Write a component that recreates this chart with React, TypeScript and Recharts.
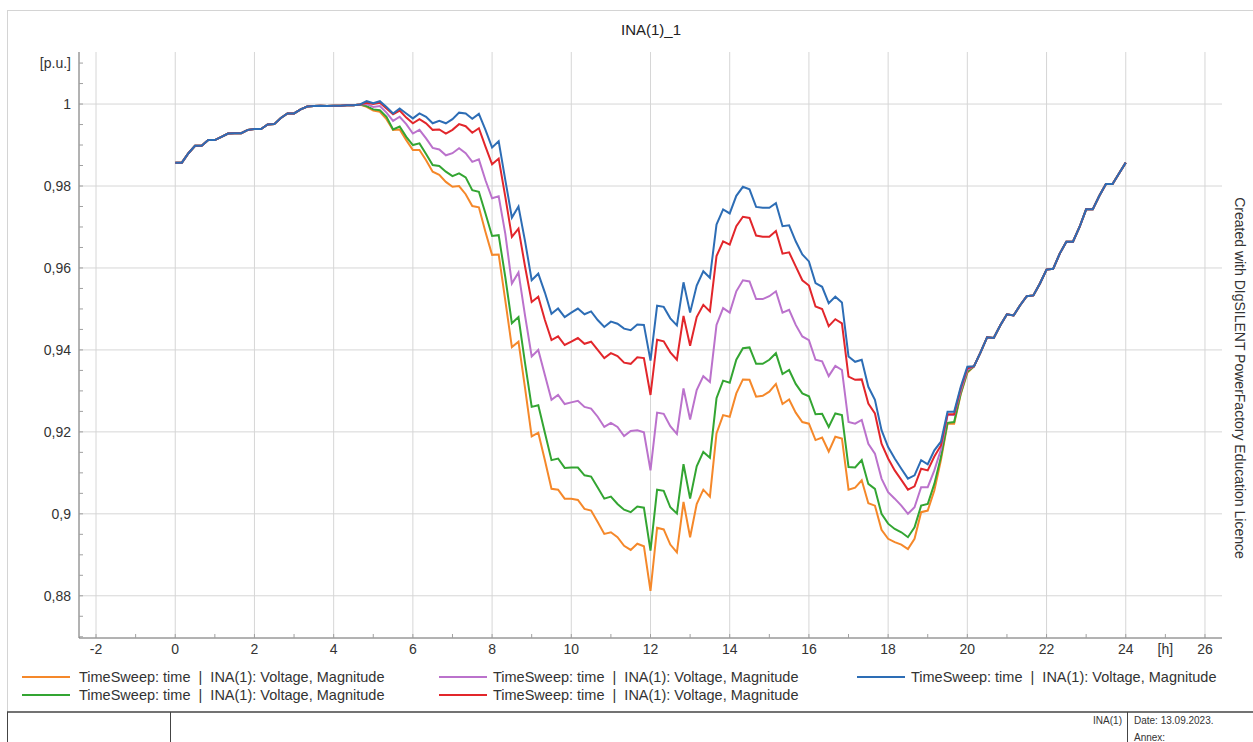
import React from 'react';
import { LineChart, Line, XAxis, YAxis, CartesianGrid } from 'recharts';

// 10 minute sweep, 0 h .. 24 h
const STEP_HOURS = 10 / 60;

// all five curves coincide here (0 h .. 4.67 h)
const SHARED_HEAD = [
  0.9857, 0.9857, 0.988, 0.9898, 0.9898, 0.9912, 0.9912, 0.992, 0.9928, 0.9929,
  0.9929, 0.9937, 0.9939, 0.9939, 0.995, 0.9951, 0.9966, 0.9977, 0.9977, 0.9987,
  0.9994, 0.9995, 0.9996, 0.9995, 0.9996, 0.9996, 0.9997, 0.9997, 0.9999,
];

// and here again (20.17 h .. 24 h)
const SHARED_TAIL = [
  0.936, 0.9394, 0.9431, 0.9429, 0.946, 0.9487, 0.9484, 0.9509, 0.9531, 0.9533,
  0.9562, 0.9596, 0.9598, 0.9635, 0.9664, 0.9664, 0.97, 0.9743, 0.9743, 0.9776,
  0.9805, 0.9805, 0.9831, 0.9857,
];

// 4.83 h .. 20 h
const ORANGE_MID = [
  0.9993, 0.9984, 0.9981, 0.9963, 0.9937, 0.9938, 0.9912, 0.9888, 0.9888, 0.9863,
  0.9835, 0.9827, 0.981, 0.9798, 0.98, 0.978, 0.9751, 0.9748, 0.9688, 0.9632,
  0.9633, 0.9521, 0.9407, 0.942, 0.9306, 0.9189, 0.9198, 0.9131, 0.9061, 0.9059,
  0.9037, 0.9037, 0.9034, 0.9012, 0.9008, 0.898, 0.8951, 0.8955, 0.8943, 0.8922,
  0.8912, 0.8927, 0.8921, 0.8812, 0.8966, 0.8962, 0.8925, 0.8906, 0.9029, 0.8943,
  0.9024, 0.9059, 0.9042, 0.9196, 0.9241, 0.9237, 0.9294, 0.9328, 0.9327, 0.9286,
  0.9288, 0.9298, 0.9317, 0.9268, 0.9279, 0.9247, 0.9224, 0.922, 0.918, 0.9186,
  0.9152, 0.9188, 0.9184, 0.9059, 0.9064, 0.9082, 0.9026, 0.902, 0.8961, 0.8939,
  0.8931, 0.8925, 0.8914, 0.8939, 0.9004, 0.9008, 0.9057, 0.9131, 0.922, 0.922,
  0.9292, 0.9344,
];

const GREEN_MID = [
  0.9995, 0.9987, 0.9985, 0.9969, 0.9938, 0.9945, 0.992, 0.99, 0.9904, 0.9878,
  0.9851, 0.9849, 0.9835, 0.9824, 0.9831, 0.9821, 0.979, 0.9786, 0.9733, 0.9678,
  0.968, 0.9578, 0.9465, 0.948, 0.9367, 0.9261, 0.9265, 0.9198, 0.9131, 0.9135,
  0.9112, 0.9113, 0.9113, 0.9094, 0.9091, 0.9064, 0.9037, 0.9042, 0.9024, 0.901,
  0.9004, 0.9018, 0.9015, 0.891, 0.9059, 0.9056, 0.9016, 0.9001, 0.9121, 0.9037,
  0.9116, 0.9151, 0.9137, 0.9282, 0.9325, 0.932, 0.9376, 0.9404, 0.9406, 0.9366,
  0.9366, 0.9376, 0.9392, 0.9341, 0.9351, 0.9317, 0.9294, 0.9287, 0.9243, 0.9244,
  0.9212, 0.9245, 0.9241, 0.9114, 0.9113, 0.9131, 0.9073, 0.9061, 0.9, 0.8976,
  0.8963, 0.8955, 0.8943, 0.8967, 0.902, 0.9024, 0.9073, 0.9139, 0.9222, 0.9224,
  0.9294, 0.9347,
];

const PURPLE_MID = [
  1.0, 0.9993, 0.9995, 0.9979, 0.9959, 0.9969, 0.9951, 0.9928, 0.9937, 0.9916,
  0.9893, 0.9889, 0.9875, 0.988, 0.9892, 0.988, 0.9859, 0.9865, 0.9814, 0.977,
  0.9775, 0.9684, 0.9562, 0.9589, 0.9483, 0.9384, 0.94, 0.9339, 0.9278, 0.929,
  0.9268, 0.9272, 0.9276, 0.9261, 0.9257, 0.9237, 0.9212, 0.9222, 0.9212, 0.919,
  0.9202, 0.9204, 0.9199, 0.9106, 0.9247, 0.9244, 0.9214, 0.9195, 0.9306, 0.923,
  0.9302, 0.9336, 0.9322, 0.9461, 0.9502, 0.9491, 0.9543, 0.957, 0.9567, 0.9524,
  0.9524, 0.9531, 0.9543, 0.9491, 0.9498, 0.9461, 0.9433, 0.9424, 0.9376, 0.9372,
  0.9336, 0.9361, 0.9351, 0.9224, 0.922, 0.9229, 0.9171, 0.9147, 0.9086, 0.9053,
  0.9037, 0.902, 0.9, 0.9016, 0.9065, 0.9065, 0.9106, 0.9157, 0.9241, 0.9241,
  0.93, 0.9351,
];

const RED_MID = [
  1.0003, 1.0, 1.0003, 0.9989, 0.9975, 0.9984, 0.9967, 0.9953, 0.9963, 0.9953,
  0.9937, 0.9938, 0.9928, 0.9937, 0.9951, 0.9946, 0.993, 0.9941, 0.9896, 0.9853,
  0.9867, 0.9774, 0.9676, 0.9696, 0.9603, 0.9517, 0.953, 0.9473, 0.9424, 0.9433,
  0.9412, 0.942, 0.9429, 0.9415, 0.942, 0.94, 0.938, 0.9392, 0.9385, 0.9369,
  0.9366, 0.9382, 0.938, 0.929, 0.9425, 0.9421, 0.9394, 0.9376, 0.9483, 0.941,
  0.948, 0.951, 0.9494, 0.9629, 0.9665, 0.9657, 0.9702, 0.9725, 0.9722, 0.9679,
  0.9676, 0.9676, 0.969, 0.9635, 0.9638, 0.9604, 0.957, 0.9557, 0.9506, 0.95,
  0.9458, 0.9475, 0.9465, 0.9335, 0.9327, 0.9328, 0.9269, 0.9245, 0.9171, 0.9135,
  0.9106, 0.9083, 0.9059, 0.9067, 0.911, 0.9106, 0.914, 0.9167, 0.9243, 0.9243,
  0.9306, 0.9355,
];

const BLUE_MID = [
  1.0007, 1.0002, 1.0007, 0.9993, 0.9977, 0.9989, 0.9977, 0.9965, 0.9977, 0.9969,
  0.9953, 0.9959, 0.9953, 0.9963, 0.9979, 0.9977, 0.9964, 0.9976, 0.9937, 0.9894,
  0.9909, 0.9815, 0.9723, 0.975, 0.9665, 0.957, 0.9586, 0.954, 0.9488, 0.9501,
  0.948, 0.9491, 0.9501, 0.9487, 0.9494, 0.9473, 0.9456, 0.9469, 0.9464, 0.9452,
  0.9448, 0.9462, 0.9461, 0.9374, 0.9508, 0.9505, 0.9477, 0.946, 0.9565, 0.9491,
  0.9557, 0.9592, 0.9576, 0.9706, 0.9743, 0.9733, 0.9776, 0.9798, 0.9792, 0.9749,
  0.9747, 0.9747, 0.9758, 0.9702, 0.9704, 0.9665, 0.9633, 0.9616, 0.9563, 0.9554,
  0.9514, 0.953, 0.9516, 0.9384, 0.9371, 0.9376, 0.931, 0.9278, 0.9204, 0.9163,
  0.9135, 0.911, 0.9086, 0.9094, 0.9131, 0.9121, 0.9155, 0.9176, 0.9249, 0.9249,
  0.931, 0.9359,
];

const X_TICKS = [-2, -1, 0, 1, 2, 3, 4, 5, 6, 7, 8, 9, 10, 11, 12, 13, 14, 15, 16, 17, 18, 19, 20, 21, 22, 23, 24, 25, 26];
const X_GRID = [-2, 0, 2, 4, 6, 8, 10, 12, 14, 16, 18, 20, 22, 24, 26];
const Y_TICKS = [
  0.87, 0.875, 0.88, 0.885, 0.89, 0.895, 0.9, 0.905, 0.91, 0.915, 0.92, 0.925, 0.93, 0.935,
  0.94, 0.945, 0.95, 0.955, 0.96, 0.965, 0.97, 0.975, 0.98, 0.985, 0.99, 0.995, 1, 1.005, 1.01,
];
const Y_GRID = [0.88, 0.9, 0.92, 0.94, 0.96, 0.98, 1];

const LEGEND_TEXT = 'TimeSweep: time  |  INA(1): Voltage, Magnitude';

const SERIES = [
  { key: 'orange', color: '#f5882a', mid: ORANGE_MID },
  { key: 'green', color: '#33a532', mid: GREEN_MID },
  { key: 'purple', color: '#bb72cc', mid: PURPLE_MID },
  { key: 'red', color: '#e2262b', mid: RED_MID },
  { key: 'blue', color: '#2d6db5', mid: BLUE_MID },
];

// legend slots as in the reference: line start, text start, row
const LEGEND_POS = [
  { key: 'orange', x: 22, tx: 79, y: 677 },
  { key: 'green', x: 22, tx: 79, y: 695 },
  { key: 'purple', x: 439, tx: 493, y: 677 },
  { key: 'red', x: 439, tx: 493, y: 695 },
  { key: 'blue', x: 857, tx: 911, y: 677 },
];

const FONT = '"Liberation Sans", Arial, sans-serif';

const buildRows = () => {
  const full: { [k: string]: number[] } = {};
  SERIES.forEach(s => {
    full[s.key] = [...SHARED_HEAD, ...s.mid, ...SHARED_TAIL];
  });
  const n = full.blue.length;
  const rows: any[] = [];
  for (let i = 0; i < n; i++) {
    const row: any = { t: i * STEP_HOURS };
    SERIES.forEach(s => {
      row[s.key] = full[s.key][i];
    });
    rows.push(row);
  }
  return rows;
};

const XTick = (props: any) => {
  const { x, y, payload } = props;
  const v = payload.value;
  let label = '';
  if (v === 25) label = '[h]';
  else if (v % 2 === 0) label = String(v);
  return (
    <g>
      <line x1={x} y1={y} x2={x} y2={y - 4} stroke="#a0a0a0" />
      {label && (
        <text x={x} y={y + 16} textAnchor="middle" fontSize={14} fill="#333" fontFamily={FONT}>
          {label}
        </text>
      )}
    </g>
  );
};

const YTick = (props: any) => {
  const { x, y, payload } = props;
  const milli = Math.round(payload.value * 1000);
  let label = '';
  if (milli === 1010) label = '[p.u.]';
  else if (milli % 20 === 0) label = String(Number(payload.value.toFixed(2))).replace('.', ',');
  return (
    <g>
      <line x1={x} y1={y} x2={x + 4} y2={y} stroke="#a0a0a0" />
      {label && (
        <text x={x - 8} y={y + 5} textAnchor="end" fontSize={14} fill="#333" fontFamily={FONT}>
          {label}
        </text>
      )}
    </g>
  );
};

const App = () => {
  const rows = buildRows();
  const colorOf = (k: string) => SERIES.find(s => s.key === k)!.color;

  return (
    <div style={{ position: 'absolute', left: 0, top: 0, width: 1253, height: 742, background: '#fff' }}>
      <LineChart width={1253} height={742} data={rows} margin={{ top: 52, right: 31, bottom: 74, left: 0 }}>
        <CartesianGrid stroke="#d6d6d6" horizontalValues={Y_GRID} verticalValues={X_GRID} />
        <XAxis
          dataKey="t"
          type="number"
          domain={[-2.43, 26.43]}
          allowDataOverflow
          ticks={X_TICKS}
          interval={0}
          height={30}
          tickSize={0}
          tickMargin={0}
          tick={<XTick />}
          axisLine={{ stroke: '#666' }}
        />
        <YAxis
          type="number"
          domain={[0.8697, 1.0127]}
          allowDataOverflow
          ticks={Y_TICKS}
          interval={0}
          width={79}
          tickSize={0}
          tickMargin={0}
          tick={<YTick />}
          axisLine={{ stroke: '#666' }}
        />
        {SERIES.map(s => (
          <Line
            key={s.key}
            type="linear"
            dataKey={s.key}
            stroke={s.color}
            strokeWidth={2}
            dot={false}
            isAnimationActive={false}
          />
        ))}
      </LineChart>

      <svg
        width={1253}
        height={742}
        style={{ position: 'absolute', left: 0, top: 0, pointerEvents: 'none' }}
        fontFamily={FONT}
      >
        {/* page frame */}
        <line x1={7} y1={10.5} x2={1253} y2={10.5} stroke="#d4d4d4" />
        <line x1={7.5} y1={10} x2={7.5} y2={712} stroke="#d4d4d4" />

        <text x={651} y={35} textAnchor="middle" fontSize={15} fill="#222">
          INA(1)_1
        </text>

        <text
          x={1240}
          y={378}
          textAnchor="middle"
          fontSize={14}
          fill="#333"
          transform="rotate(90 1240 378)"
          dominantBaseline="central"
        >
          Created with DIgSILENT PowerFactory Education Licence
        </text>

        {LEGEND_POS.map(p => (
          <g key={p.key}>
            <line x1={p.x} y1={p.y} x2={p.x + 48} y2={p.y} stroke={colorOf(p.key)} strokeWidth={2} />
            <text x={p.tx} y={p.y + 5} fontSize={14.5} fill="#333" style={{ whiteSpace: 'pre' }}>
              {LEGEND_TEXT}
            </text>
          </g>
        ))}

        {/* title block */}
        <line x1={7} y1={712} x2={1253} y2={712} stroke="#444" strokeWidth={1.5} />
        <line x1={7.5} y1={712} x2={7.5} y2={742} stroke="#444" />
        <line x1={170.5} y1={712} x2={170.5} y2={742} stroke="#444" />
        <line x1={1127.5} y1={712} x2={1127.5} y2={742} stroke="#444" />
        <text x={1122} y={724} textAnchor="end" fontSize={10} fill="#333">
          INA(1)
        </text>
        <text x={1134} y={724} fontSize={10} fill="#333">
          Date: 13.09.2023.
        </text>
        <text x={1134} y={741} fontSize={10} fill="#333">
          Annex:
        </text>
      </svg>
    </div>
  );
};

export default App;
